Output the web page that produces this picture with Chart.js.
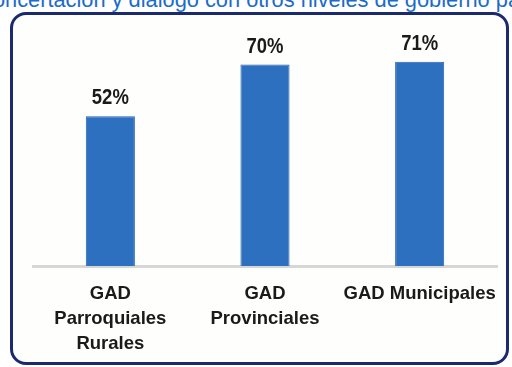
<!DOCTYPE html>
<html>
<head>
<meta charset="utf-8">
<script src="https://cdn.jsdelivr.net/npm/chart.js@4.4.1/dist/chart.umd.min.js"></script>
<style>
  html, body { margin: 0; padding: 0; background: #fff; }
  #wrap { position: relative; width: 512px; height: 367px; overflow: hidden; }
  #titulo {
    position: absolute; left: -18px; top: -11px; white-space: nowrap;
    font: 21.8px/1 "Liberation Sans", Arial, sans-serif; color: #1b6cc8;
  }
  #marco {
    position: absolute; left: 10px; top: 12px; width: 493px; height: 347px;
    border: 3px solid #1b2a6b; border-radius: 16px; background: #fefefc;
  }
  #grafico { position: absolute; left: 0; top: 0; }
</style>
</head>
<body>
<div id="wrap">
  <div id="titulo">concertación y diálogo con otros niveles de gobierno para</div>
  <div id="marco"></div>
  <canvas id="grafico" width="512" height="367"></canvas>
</div>
<script>
myChart();

function myChart() {
    var niveles = [
        ["GAD", "Parroquiales", "Rurales"],
        ["GAD", "Provinciales"],
        ["GAD Municipales"]
    ];
    var porcentaje = [52, 70, 71];

    // escribe el porcentaje encima de cada barra (letra algo estrecha)
    var etiquetas = {
        id: 'etiquetas',
        afterDatasetsDraw: function (chart) {
            var ctx = chart.ctx;
            var meta = chart.getDatasetMeta(0);
            meta.data.forEach(function (bar, i) {
                ctx.save();
                ctx.translate(bar.x, bar.y - 12);
                ctx.scale(0.84, 1);
                ctx.font = 'bold 22px "Liberation Sans", Arial, sans-serif';
                ctx.fillStyle = '#1a1a1a';
                ctx.textAlign = 'center';
                ctx.textBaseline = 'alphabetic';
                ctx.fillText(porcentaje[i] + '%', 0, 0);
                ctx.restore();
            });
        }
    };

    var ctx = document.getElementById('grafico');
    new Chart(ctx, {
        type: 'bar',
        data: {
            labels: niveles,
            datasets: [{
                data: porcentaje,
                backgroundColor: "#2d70c0",
                borderColor: "#2563ae",
                borderWidth: 1,
                barPercentage: 0.635,
                categoryPercentage: 0.5
            }]
        },
        options: {
            responsive: false,
            animation: false,
            layout: {
                padding: { left: 33, right: 15, top: 30, bottom: 0 }
            },
            plugins: {
                title: { display: false },
                legend: { display: false },
                tooltip: { enabled: false }
            },
            scales: {
                x: {
                    afterFit: function (scale) {
                        scale.height = 101;
                        scale.paddingLeft = 0;
                        scale.paddingRight = 0;
                    },
                    grid: { display: false, drawTicks: false },
                    border: { display: true, color: '#d6d6d6', width: 3 },
                    ticks: {
                        padding: 15,
                        color: '#1a1a1a',
                        maxRotation: 0,
                        autoSkip: false,
                        font: { family: '"Liberation Sans", Arial, sans-serif', size: 18.5, weight: 'bold', lineHeight: '25px' }
                    }
                },
                y: {
                    display: false,
                    min: 0,
                    max: 82
                }
            }
        },
        plugins: [etiquetas]
    });
}
</script>
</body>
</html>
